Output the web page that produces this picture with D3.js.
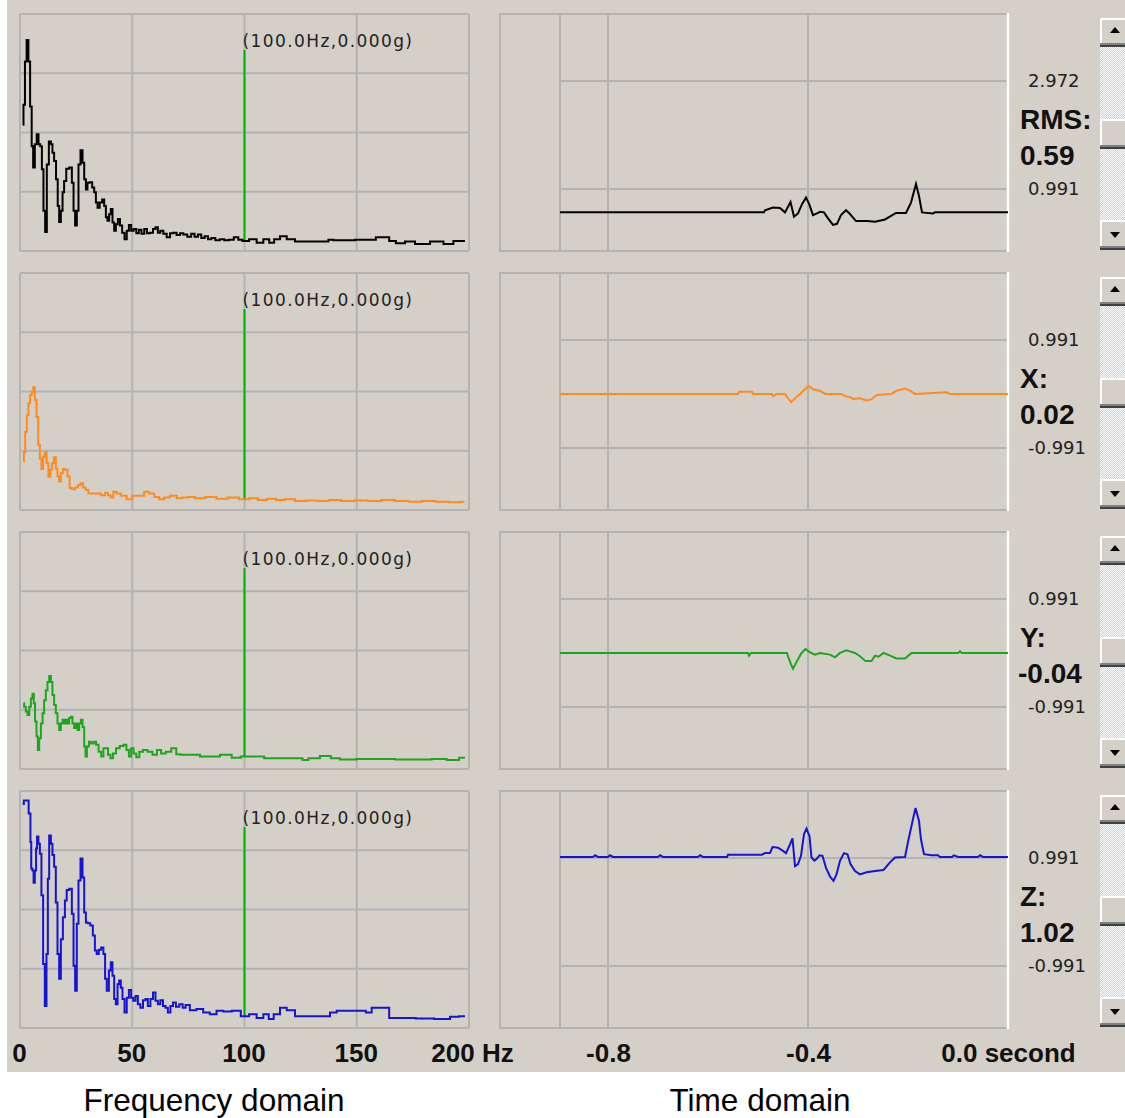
<!DOCTYPE html>
<html>
<head>
<meta charset="utf-8">
<script src="https://cdn.jsdelivr.net/npm/d3@7"></script>
<style>
  body { margin: 0; background: #fff; }
  svg { display: block; }
</style>
</head>
<body>
<div id="chart"></div>
<script>
// ---- data ----
const channels = ["RMS:", "X:", "Y:", "Z:"];
const channelValues = ["0.59", "0.02", "-0.04", "1.02"];
const levelMid = [1.981, 0, 0, 0];
const levelLabels = [["2.972", "0.991"], ["0.991", "-0.991"], ["0.991", "-0.991"], ["0.991", "-0.991"]];
const levelValues = [[2.972, 0.991], [0.991, -0.991], [0.991, -0.991], [0.991, -0.991]];
const colors = ["#000000", "#ff8a1e", "#1ea51e", "#1414d2"];

const freqTicks = [0, 50, 100, 150, 200];
const timeTicks = [-0.8, -0.4, 0.0];
const cursorFreq = 100;
const cursorTop = 3.39;
const cursorLabel = "(100.0Hz,0.000g)";

// spectra, [Hz, amplitude in grid units 0..4]
const specRMS = [[1.2,2.13],[1.9,2.47],[2.5,3.20],[3.4,3.56],[4.1,3.20],[4.9,2.44],[5.5,1.77],[6.2,1.41],[7.0,1.80],[7.9,1.97],[8.6,1.80],[9.4,1.77],[10.1,1.38],[10.8,0.68],[11.6,0.32],[12.3,1.46],[13.4,1.85],[14.1,1.80],[14.8,1.66],[15.6,1.52],[16.5,1.21],[17.1,0.76],[17.8,0.49],[18.6,0.68],[19.3,0.99],[20.0,1.18],[21.2,1.39],[22.7,1.41],[23.5,1.15],[24.2,0.68],[24.9,0.43],[25.7,0.68],[26.4,1.46],[27.5,1.70],[28.2,1.49],[29.0,1.21],[29.7,1.04],[30.4,1.15],[31.6,1.16],[32.7,1.07],[33.4,0.99],[34.2,0.82],[34.9,0.73],[36.1,0.82],[37.1,0.87],[37.9,0.76],[38.6,0.57],[39.3,0.51],[40.1,0.62],[40.8,0.71],[41.6,0.48],[42.3,0.34],[43.1,0.45],[44.1,0.54],[45.0,0.43],[46.0,0.31],[47.1,0.20],[48.0,0.34],[49.0,0.44],[50.0,0.34],[51.2,0.37],[52.4,0.30],[53.5,0.36],[54.7,0.29],[56.0,0.37],[57.1,0.30],[58.7,0.31],[59.8,0.37],[60.9,0.40],[61.9,0.31],[63.1,0.34],[64.6,0.29],[66.1,0.23],[67.6,0.30],[69.0,0.31],[70.5,0.27],[72.0,0.30],[73.5,0.28],[75.5,0.24],[77.0,0.29],[78.5,0.24],[80.0,0.28],[81.5,0.22],[83.0,0.25],[84.5,0.20],[86.0,0.22],[88.0,0.18],[90.0,0.20],[92.0,0.18],[94.0,0.19],[96.5,0.23],[98.0,0.19],[100.2,0.17],[103.9,0.20],[106.9,0.14],[109.9,0.20],[112.1,0.14],[114.3,0.20],[117.3,0.25],[120.3,0.20],[124.7,0.16],[136.6,0.16],[138.1,0.19],[141.1,0.18],[157.4,0.19],[159.6,0.23],[163.3,0.23],[165.6,0.17],[169.3,0.13],[173.7,0.16],[178.2,0.12],[187.1,0.16],[190.1,0.12],[196.0,0.17],[198.2,0.17]];
const specX = [[1.5,0.82],[1.9,0.98],[2.7,1.32],[3.4,1.60],[4.1,1.80],[4.9,1.94],[5.6,2.00],[6.2,2.07],[7.0,1.86],[7.7,1.57],[8.5,1.10],[9.2,0.87],[9.9,0.69],[10.7,0.90],[11.4,0.98],[12.2,0.79],[13.1,0.56],[13.8,0.68],[14.6,0.79],[15.6,0.89],[16.3,0.70],[17.1,0.57],[17.8,0.48],[18.6,0.62],[19.6,0.69],[20.8,0.68],[21.5,0.57],[22.7,0.37],[23.7,0.35],[25.3,0.38],[26.3,0.42],[27.5,0.45],[28.6,0.38],[29.7,0.34],[31.2,0.28],[34.9,0.28],[37.1,0.25],[38.6,0.29],[39.8,0.25],[40.8,0.21],[42.3,0.31],[43.8,0.28],[46.0,0.24],[49.0,0.18],[51.2,0.24],[54.2,0.24],[56.4,0.31],[58.7,0.28],[60.9,0.22],[63.1,0.18],[65.3,0.21],[68.3,0.24],[71.3,0.20],[73.5,0.21],[76,0.22],[80,0.20],[85,0.22],[90,0.19],[95,0.21],[100,0.18],[104,0.20],[108,0.17],[112,0.19],[116,0.17],[120,0.18],[125,0.15],[130,0.16],[135,0.15],[140,0.17],[146,0.15],[152,0.16],[158,0.15],[164,0.17],[170,0.15],[176,0.14],[182,0.15],[188,0.14],[194,0.13],[198,0.14]];
const specY = [[1.5,1.11],[2.2,1.05],[3.0,0.97],[3.7,0.91],[4.5,1.05],[5.2,1.19],[5.9,1.27],[6.4,1.11],[7.0,0.80],[7.7,0.55],[8.2,0.32],[8.9,0.52],[9.7,0.77],[10.4,0.94],[11.1,1.16],[11.9,1.33],[12.6,1.47],[13.4,1.57],[14.1,1.47],[14.8,1.25],[15.6,1.08],[16.3,0.94],[17.1,0.77],[17.8,0.66],[18.6,0.77],[19.3,0.83],[20.0,0.77],[20.8,0.83],[21.5,0.77],[22.3,0.86],[23.0,0.88],[23.7,0.77],[24.5,0.69],[25.3,0.77],[26.0,0.66],[26.7,0.77],[27.5,0.83],[28.2,0.71],[29.0,0.38],[29.4,0.21],[30.2,0.38],[31.2,0.46],[32.2,0.43],[33.4,0.46],[34.4,0.41],[35.6,0.29],[36.7,0.21],[37.6,0.35],[38.6,0.35],[39.8,0.24],[40.8,0.18],[42.0,0.26],[43.5,0.35],[45.3,0.39],[46.8,0.41],[48.0,0.32],[49.0,0.21],[50.0,0.35],[51.2,0.26],[52.4,0.20],[53.9,0.29],[55.7,0.32],[57.9,0.29],[60.1,0.24],[61.9,0.32],[63.8,0.26],[66.1,0.29],[68.7,0.35],[70.5,0.25],[72.7,0.24],[74.3,0.24],[86.1,0.21],[92.1,0.24],[96.5,0.19],[100.2,0.21],[108.4,0.21],[109.1,0.18],[124.7,0.18],[127.0,0.15],[129.9,0.18],[137.3,0.22],[139.6,0.18],[145.5,0.16],[154.4,0.17],[179.6,0.16],[187.1,0.17],[193.0,0.15],[198.2,0.19]];
const specZ = [[1.2,3.78],[2.2,3.84],[3.7,3.84],[4.0,3.62],[4.5,3.62],[4.8,3.14],[5.2,2.69],[5.9,2.66],[6.2,2.45],[7.0,2.66],[7.3,3.03],[7.9,3.23],[8.5,3.11],[9.2,2.94],[9.9,2.24],[10.7,1.08],[11.4,0.37],[12.2,1.25],[12.6,2.52],[13.4,3.25],[14.1,3.11],[14.8,2.92],[15.6,2.72],[16.3,2.12],[17.1,1.25],[17.8,0.83],[18.6,1.50],[19.6,1.87],[20.4,2.15],[21.2,2.33],[22.7,2.35],[23.5,1.93],[24.2,1.05],[24.9,0.63],[25.7,1.76],[26.4,2.49],[27.5,2.86],[28.2,2.54],[29.0,1.95],[29.7,1.78],[30.7,1.77],[31.9,1.73],[33.0,1.56],[33.7,1.31],[34.6,1.25],[35.6,1.32],[36.7,1.36],[37.6,1.25],[38.2,0.83],[39.1,0.63],[40.1,0.97],[40.8,1.11],[41.6,0.88],[42.3,0.49],[43.1,0.40],[43.8,0.74],[44.5,0.80],[45.3,0.68],[46.0,0.49],[47.1,0.26],[48.0,0.51],[49.0,0.64],[50.0,0.51],[50.9,0.46],[52.0,0.54],[53.0,0.40],[54.2,0.34],[55.4,0.47],[56.4,0.49],[57.5,0.37],[58.7,0.49],[59.8,0.60],[60.9,0.46],[61.9,0.40],[63.1,0.47],[64.3,0.37],[65.3,0.34],[66.4,0.26],[67.6,0.37],[68.7,0.43],[70.2,0.36],[71.7,0.40],[73.2,0.34],[74.3,0.39],[77.0,0.30],[80.2,0.32],[83.0,0.26],[86.1,0.23],[89.0,0.29],[92.1,0.28],[96.5,0.29],[100.2,0.20],[103.9,0.23],[106.9,0.17],[109.9,0.23],[111.7,0.15],[114.3,0.23],[117.3,0.34],[120.3,0.30],[124.7,0.20],[136.6,0.20],[139.6,0.26],[142.5,0.29],[153.7,0.29],[154.4,0.26],[158.9,0.34],[163.3,0.34],[165.6,0.17],[173.7,0.17],[178.9,0.16],[190.1,0.15],[193.0,0.19],[198.2,0.20]];

// time traces, [seconds, g]
const waveRMS = [[-0.896,0.56],[-0.488,0.56],[-0.486,0.60],[-0.470,0.65],[-0.456,0.64],[-0.446,0.56],[-0.435,0.75],[-0.428,0.48],[-0.420,0.54],[-0.412,0.71],[-0.404,0.83],[-0.398,0.72],[-0.390,0.51],[-0.382,0.54],[-0.376,0.57],[-0.368,0.56],[-0.360,0.45],[-0.350,0.33],[-0.342,0.35],[-0.334,0.51],[-0.324,0.60],[-0.316,0.53],[-0.304,0.40],[-0.282,0.40],[-0.266,0.39],[-0.246,0.43],[-0.224,0.55],[-0.204,0.55],[-0.194,0.74],[-0.184,1.08],[-0.178,0.86],[-0.172,0.56],[-0.150,0.54],[-0.146,0.56],[0,0.56]];
const waveX = [[-0.896,0],[-0.540,0],[-0.538,0.04],[-0.512,0.04],[-0.510,0],[-0.472,0],[-0.470,-0.04],[-0.462,0],[-0.446,0],[-0.443,-0.04],[-0.434,-0.15],[-0.416,0],[-0.399,0.15],[-0.389,0.08],[-0.376,0.06],[-0.366,0],[-0.333,0],[-0.326,-0.04],[-0.316,-0.06],[-0.310,-0.09],[-0.296,-0.08],[-0.283,-0.12],[-0.273,-0.10],[-0.263,-0.02],[-0.233,0],[-0.223,0.06],[-0.206,0.10],[-0.196,0.06],[-0.186,0],[-0.123,0.03],[-0.116,0],[0,0]];
const waveY = [[-0.896,0],[-0.520,0],[-0.518,-0.05],[-0.514,0],[-0.442,0],[-0.440,-0.06],[-0.434,-0.21],[-0.430,-0.29],[-0.422,-0.15],[-0.413,0],[-0.405,0.07],[-0.396,0.01],[-0.386,-0.03],[-0.376,0],[-0.356,-0.03],[-0.346,-0.08],[-0.336,0],[-0.323,0.05],[-0.306,0],[-0.296,-0.06],[-0.285,-0.15],[-0.273,-0.15],[-0.266,-0.05],[-0.259,-0.07],[-0.249,0],[-0.236,-0.05],[-0.223,-0.10],[-0.206,-0.10],[-0.193,0],[-0.100,0],[-0.096,0.03],[-0.092,0],[0,0]];
const waveZ = [[-0.896,1.01],[-0.830,1.01],[-0.826,1.04],[-0.820,1.01],[-0.800,1.01],[-0.796,1.04],[-0.790,1.01],[-0.700,1.01],[-0.696,1.04],[-0.690,1.01],[-0.620,1.01],[-0.616,1.04],[-0.610,1.01],[-0.562,1.01],[-0.560,1.05],[-0.492,1.05],[-0.486,1.08],[-0.476,1.08],[-0.471,1.19],[-0.460,1.18],[-0.450,1.12],[-0.444,1.08],[-0.436,1.24],[-0.431,1.35],[-0.426,0.84],[-0.420,0.88],[-0.414,1.03],[-0.408,1.43],[-0.403,1.53],[-0.397,1.39],[-0.393,1.00],[-0.387,0.94],[-0.383,0.97],[-0.377,1.04],[-0.371,1.03],[-0.364,0.81],[-0.356,0.65],[-0.349,0.57],[-0.343,0.69],[-0.336,0.94],[-0.328,1.08],[-0.321,1.06],[-0.315,0.88],[-0.306,0.75],[-0.296,0.69],[-0.283,0.73],[-0.266,0.75],[-0.249,0.77],[-0.236,0.91],[-0.226,1.00],[-0.206,1.01],[-0.199,1.33],[-0.193,1.58],[-0.185,1.91],[-0.178,1.67],[-0.174,1.33],[-0.168,1.06],[-0.153,1.04],[-0.140,1.04],[-0.136,1.01],[-0.112,1.01],[-0.108,1.04],[-0.100,1.01],[-0.060,1.01],[-0.056,1.04],[-0.050,1.01],[0,1.01]];

const spectra = [specRMS, specX, specY, specZ];
const waves = [waveRMS, waveX, waveY, waveZ];

// ---- drawing ----
const W = 1125, H = 1118;
const bg = "#d4d0c8", gridColor = "#b3b3b3";
const panelH = 237;
const panelTop = i => 14 + i * 259;

const svg = d3.select("#chart").append("svg")
    .attr("width", W)
    .attr("height", H)
    .style("font-family", "'DejaVu Sans', sans-serif");

const defs = svg.append("defs");
const pat = defs.append("pattern").attr("id", "dither")
    .attr("width", 2).attr("height", 2).attr("patternUnits", "userSpaceOnUse");
pat.append("rect").attr("width", 2).attr("height", 2).attr("fill", bg);
pat.append("rect").attr("width", 1).attr("height", 1).attr("fill", "#ffffff");
pat.append("rect").attr("x", 1).attr("y", 1).attr("width", 1).attr("height", 1).attr("fill", "#ffffff");

svg.append("rect")
    .attr("x", 7).attr("y", 0)
    .attr("width", W - 7).attr("height", 1072)
    .attr("fill", bg);

const fx = d3.scaleLinear().domain([0, 200]).range([20, 469]);
const tx = d3.scaleLinear().domain([-0.8, 0]).range([608, 1008]);
const tStart = waveRMS[0][0];

channels.forEach((name, i) => {
    const top = panelTop(i), bottom = top + panelH;

    // frequency domain panel
    const fy = d3.scaleLinear().domain([0, 4]).range([bottom, top]);
    const gf = svg.append("g");
    gf.selectAll("line.vg").data(freqTicks).join("line").attr("class", "vg")
        .attr("x1", d => fx(d)).attr("x2", d => fx(d))
        .attr("y1", top).attr("y2", bottom)
        .attr("stroke", gridColor).attr("stroke-width", 2);
    gf.selectAll("line.hg").data(d3.range(0, 5)).join("line").attr("class", "hg")
        .attr("x1", fx(0)).attr("x2", fx(200))
        .attr("y1", d => fy(d)).attr("y2", d => fy(d))
        .attr("stroke", gridColor).attr("stroke-width", 2);

    const spec = spectra[i];
    const near = spec.reduce((a, b) => Math.abs(b[0] - cursorFreq) < Math.abs(a[0] - cursorFreq) ? b : a);
    gf.append("line")
        .attr("x1", fx(cursorFreq)).attr("x2", fx(cursorFreq))
        .attr("y1", fy(cursorTop)).attr("y2", fy(near[1]))
        .attr("stroke", "#00b000").attr("stroke-width", 2);
    gf.append("text")
        .attr("x", fx(cursorFreq) - 2).attr("y", top + 33)
        .attr("font-size", 17).attr("letter-spacing", 1.4)
        .attr("fill", "#222")
        .text(cursorLabel);

    // spectrum drawn as held samples, like the original plot
    gf.append("path")
        .datum(spec)
        .attr("d", d3.line().curve(d3.curveStep).x(d => fx(d[0])).y(d => fy(d[1])))
        .attr("fill", "none")
        .attr("stroke", colors[i])
        .attr("stroke-width", 2);

    // time domain panel
    const mid = levelMid[i];
    const ty = d3.scaleLinear().domain([mid - 2.13, mid + 2.22]).range([bottom, top]);
    const gt = svg.append("g");
    gt.append("rect")
        .attr("x", 500).attr("y", top)
        .attr("width", 508).attr("height", panelH)
        .attr("fill", "none").attr("stroke", gridColor).attr("stroke-width", 2);
    gt.selectAll("line.vg").data([tStart].concat(timeTicks.slice(0, 2))).join("line").attr("class", "vg")
        .attr("x1", d => tx(d)).attr("x2", d => tx(d))
        .attr("y1", top).attr("y2", bottom)
        .attr("stroke", gridColor).attr("stroke-width", 2);
    gt.selectAll("line.hg").data(levelValues[i]).join("line").attr("class", "hg")
        .attr("x1", tx(tStart)).attr("x2", tx(0))
        .attr("y1", d => ty(d)).attr("y2", d => ty(d))
        .attr("stroke", gridColor).attr("stroke-width", 2);
    gt.append("line")
        .attr("x1", tx(0)).attr("x2", tx(0))
        .attr("y1", top - 1).attr("y2", bottom + 1)
        .attr("stroke", "#ffffff").attr("stroke-width", 2.5);

    gt.append("path")
        .datum(waves[i])
        .attr("d", d3.line().x(d => tx(d[0])).y(d => ty(d[1])))
        .attr("fill", "none")
        .attr("stroke", colors[i])
        .attr("stroke-width", 2);

    // level labels and channel readout
    gt.selectAll("text.lvl").data(levelValues[i]).join("text").attr("class", "lvl")
        .attr("x", 1028).attr("y", d => ty(d)).attr("dy", "0.36em")
        .attr("font-size", 18).attr("fill", "#222")
        .text((d, j) => levelLabels[i][j]);
    gt.append("text")
        .attr("x", 1020).attr("y", top + 105).attr("dy", "0.36em")
        .attr("font-family", "'Liberation Sans', Arial, sans-serif")
        .attr("font-weight", "bold").attr("font-size", 28).attr("fill", "#111")
        .text(name);
    gt.append("text")
        .attr("x", name === "Y:" ? 1018 : 1020).attr("y", top + 141).attr("dy", "0.36em")
        .attr("font-family", "'Liberation Sans', Arial, sans-serif")
        .attr("font-weight", "bold").attr("font-size", 28).attr("fill", "#111")
        .text(channelValues[i]);

    // scrollbar
    const gs = svg.append("g");
    gs.append("rect").attr("x", 1100).attr("y", top + 4).attr("width", 30).attr("height", 231)
        .attr("fill", "url(#dither)");
    const button = (y0, h) => {
        gs.append("rect").attr("x", 1100).attr("y", y0).attr("width", 30).attr("height", h).attr("fill", bg);
        gs.append("line").attr("x1", 1100).attr("x2", 1130).attr("y1", y0 + 1).attr("y2", y0 + 1)
            .attr("stroke", "#ffffff").attr("stroke-width", 2);
        gs.append("line").attr("x1", 1101).attr("x2", 1101).attr("y1", y0).attr("y2", y0 + h)
            .attr("stroke", "#ffffff").attr("stroke-width", 2);
        gs.append("line").attr("x1", 1100).attr("x2", 1130).attr("y1", y0 + h - 3).attr("y2", y0 + h - 3)
            .attr("stroke", "#808080").attr("stroke-width", 2);
        gs.append("line").attr("x1", 1100).attr("x2", 1130).attr("y1", y0 + h - 1).attr("y2", y0 + h - 1)
            .attr("stroke", "#404040").attr("stroke-width", 2);
    };
    button(top + 4, 29);
    button(top + 105, 30);
    button(top + 206, 30);
    gs.append("path")
        .attr("d", `M1110,${top + 19}L1120,${top + 19}L1115,${top + 13}Z`)
        .attr("fill", "#000");
    gs.append("path")
        .attr("d", `M1110,${top + 218}L1120,${top + 218}L1115,${top + 224}Z`)
        .attr("fill", "#000");
});

// bottom axes
const axisFont = "'Liberation Sans', Arial, sans-serif";
const axF = svg.append("g").attr("transform", "translate(0,1044)")
    .call(d3.axisBottom(fx).tickValues(freqTicks).tickSize(0).tickPadding(0)
        .tickFormat(d => d === 200 ? "200 Hz" : String(d)));
const axT = svg.append("g").attr("transform", "translate(0,1044)")
    .call(d3.axisBottom(tx).tickValues(timeTicks).tickSize(0).tickPadding(0)
        .tickFormat(d => d === 0 ? "0.0 second" : d.toFixed(1)));
[axF, axT].forEach(ax => {
    ax.select(".domain").remove();
    ax.selectAll("text")
        .attr("font-family", axisFont)
        .attr("font-size", 26)
        .attr("font-weight", "bold")
        .attr("fill", "#111");
});
axF.selectAll("text").attr("dx", d => d === 200 ? 3 : -1);

// captions
svg.append("text")
    .attr("x", 214).attr("y", 1111)
    .attr("text-anchor", "middle")
    .attr("font-family", axisFont).attr("font-size", 31.5).attr("fill", "#000")
    .text("Frequency domain");
svg.append("text")
    .attr("x", 760).attr("y", 1111)
    .attr("text-anchor", "middle")
    .attr("font-family", axisFont).attr("font-size", 31.5).attr("fill", "#000")
    .text("Time domain");
</script>
</body>
</html>
